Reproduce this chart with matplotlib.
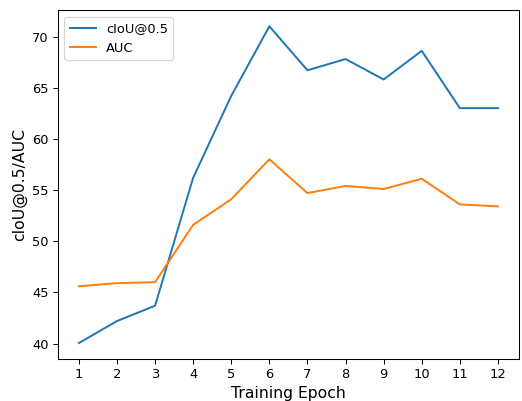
import numpy as np
import matplotlib
matplotlib.use("Agg")
import matplotlib.pyplot as plt

epochs = np.arange(1, 13)
ciou = [40.05, 42.2, 43.7, 56.2, 64.2, 71.0, 66.7, 67.8, 65.8, 68.6, 63.0, 63.0]
auc = [45.6, 45.9, 46.0, 51.6, 54.1, 58.0, 54.7, 55.4, 55.1, 56.1, 53.6, 53.4]

dpi = 94
fig = plt.figure(figsize=(522 / dpi, 401 / dpi), dpi=dpi)
ax = fig.add_axes([0.111, 0.105, 0.883, 0.869])
ax.plot(epochs, ciou, label="cIoU@0.5")
ax.plot(epochs, auc, label="AUC")
ax.set_xticks(epochs)
ax.set_xlabel("Training Epoch", fontsize=12)
ax.set_ylabel("cIoU@0.5/AUC", fontsize=12)
ax.legend(loc="upper left")
fig.savefig("out.png", dpi=dpi)
